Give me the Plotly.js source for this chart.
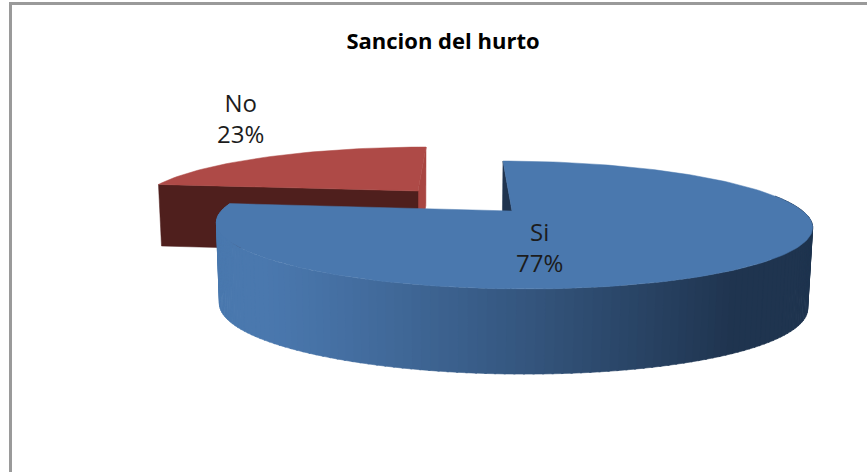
<!DOCTYPE html>
<html>
<head>
<meta charset="utf-8">
<script src="https://cdn.plot.ly/plotly-3.0.1.min.js"></script>
<style>html,body{margin:0;padding:0;background:#fff;overflow:hidden}#chart{width:867px;height:472px}</style>
</head>
<body>
<div id="chart"></div>
<script>
const categories = ['Si', 'No'];
const values = [77, 23];
const topColors = ['#4A78AE', '#AE4A47'];
const chartTitle = 'Sancion del hurto';
const labelAnchors = [[539, 247], [240, 118]];

// A 3-D disc seen in perspective: each slice has its own apex and scale because it is pulled apart.
const views = [
  {x0: 512, y0: 211, R: 290.7, B: 60.9, S: 11, p: 0.219, depth: 80, dp: 0.06, xc: 440, k: 0.9866},
  {x0: 418, y0: 191, R: 270, B: 53.6, S: -9.8, p: 0.219, depth: 62, dp: 0.06, xc: 410, k: 0.988}
];
const total = values.reduce((a, b) => a + b, 0);
const DEG = Math.PI / 180;
const spans = [];
let acc = 0;
values.forEach(v => { spans.push([acc / total * 360, (acc + v) / total * 360]); acc += v; });

function topPt(view, deg) {
  const u = Math.sin(deg * DEG), v = -Math.cos(deg * DEG), d = 1 - view.p * v;
  return {x: view.x0 + (view.R * u + view.S * v) / d, y: view.y0 + view.B * v / d, v};
}
function apex(view) { return {x: view.x0, y: view.y0, v: 0}; }
function low(view, pt) {
  return {x: view.xc + (pt.x - view.xc) * view.k, y: pt.y + view.depth / (1 - view.dp * pt.v), v: pt.v};
}
function arc(view, a, b, step) {
  const out = [];
  const n = Math.max(1, Math.ceil((b - a) / step));
  for (let i = 0; i <= n; i++) out.push(topPt(view, a + (b - a) * i / n));
  return out;
}
function poly(pts, color, width) {
  return {
    type: 'scatter', mode: 'lines', fill: 'toself', fillcolor: color,
    x: pts.map(p => p.x).concat(pts[0].x), y: pts.map(p => p.y).concat(pts[0].y),
    line: {color: color, width: width === undefined ? 0.5 : width, shape: 'linear'},
    hoverinfo: 'skip', showlegend: false
  };
}
function mix(a, b, t) {
  const c = i => Math.round(a[i] + (b[i] - a[i]) * t);
  return `rgb(${c(0)},${c(1)},${c(2)})`;
}

const traces = [];
// slice "No" (behind)
{
  const view = views[1], [a, b] = spans[1];
  const s = topPt(view, a), e = topPt(view, b), c = apex(view);
  traces.push(poly([e, c, low(view, c), low(view, e)], '#A84541'));
  traces.push(poly([s, c, low(view, c), low(view, s)], '#4F1F1D'));
  traces.push(poly([c].concat(arc(view, a, b, 2)), topColors[1]));
}
// slice "Si" (front)
{
  const view = views[0], [a, b] = spans[0];
  const s = topPt(view, a), c = apex(view);
  traces.push(poly([s, c, low(view, c), low(view, s)], '#20344F'));
  const light = [74, 120, 174], dark = [31, 52, 79];
  const wa = 75, wb = Math.min(b, 277);
  const step = 1.5;
  for (let t = wa; t < wb; t += step) {
    const p0 = topPt(view, t), p1 = topPt(view, Math.min(t + step + 0.3, wb));
    const mx = (p0.x + p1.x) / 2;
    const f = Math.pow(Math.max(0, Math.min(1, (mx - 262) / (735 - 262))), 1.15);
    traces.push(poly([p0, p1, low(view, p1), low(view, p0)], mix(light, dark, f), 0.6));
  }
  traces.push(poly([c].concat(arc(view, a, b, 1.5)), topColors[0], 0.5));
}

const annotations = categories.map((cat, i) => ({
  x: labelAnchors[i][0], y: labelAnchors[i][1], xref: 'x', yref: 'y',
  text: `${cat}<br>${Math.round(values[i] / total * 100)}%`, showarrow: false,
  font: {family: '"Open Sans", "Noto Sans", sans-serif', size: 24, color: '#1c1c1c'},
  align: 'center', xanchor: 'center', yanchor: 'middle'
}));

const hiddenAxis = {visible: false, showgrid: false, zeroline: false, fixedrange: true};
const layout = {
  width: 867, height: 472, margin: {l: 0, r: 0, t: 0, b: 0},
  paper_bgcolor: '#fff', plot_bgcolor: '#fff', showlegend: false,
  title: {text: '<b>' + chartTitle + '</b>', x: 443 / 867, xanchor: 'center', y: 1 - 41 / 472, yanchor: 'middle',
          font: {family: '"Open Sans", "Noto Sans", sans-serif', size: 22, color: '#000'}},
  xaxis: Object.assign({range: [0, 867]}, hiddenAxis),
  yaxis: Object.assign({range: [472, 0]}, hiddenAxis),
  annotations,
  shapes: [
    {type: 'line', xref: 'x', yref: 'y', x0: 10.5, x1: 10.5, y0: 2, y1: 472, line: {color: '#9a9a9a', width: 3}},
    {type: 'line', xref: 'x', yref: 'y', x0: 9, x1: 867, y0: 3.5, y1: 3.5, line: {color: '#9a9a9a', width: 3}}
  ]
};
Plotly.newPlot('chart', traces, layout, {displayModeBar: false, staticPlot: true});
</script>
</body>
</html>
